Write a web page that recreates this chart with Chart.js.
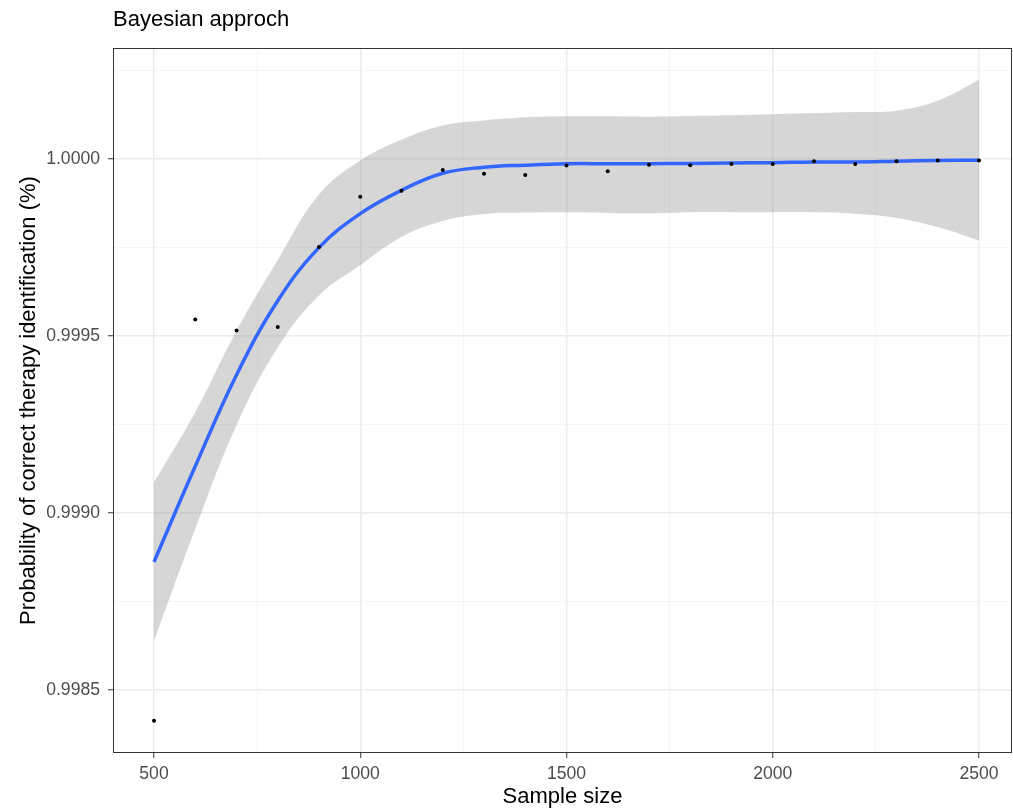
<!DOCTYPE html>
<html>
<head>
<meta charset="utf-8">
<title>Bayesian approch</title>
<script src="https://cdn.jsdelivr.net/npm/chart.js@4.4.1/dist/chart.umd.min.js"></script>
<style>
    html, body { margin: 0; padding: 0; background: #fff; overflow: hidden; }
    #wrap { width: 1013px; height: 809px; }
    canvas { display: block; }
</style>
</head>
<body>
<div id="wrap"><canvas id="chart" width="1013" height="809"></canvas></div>
<script>
// observed points
const sampleSizes = [500, 600, 700, 800, 900, 1000, 1100, 1200, 1300, 1400, 1500,
                     1600, 1700, 1800, 1900, 2000, 2100, 2200, 2300, 2400, 2500];
const probCorrect = [0.998413, 0.999547, 0.999516, 0.999526, 0.999752, 0.999894, 0.999911,
                     0.999969, 0.999959, 0.999955, 0.999982, 0.999966, 0.999984, 0.999983,
                     0.999986, 0.999986, 0.999994, 0.999986, 0.999994, 0.999996, 0.999996];

// smooth fit and its confidence band, read at the same sample sizes
const fitY = [0.998862, 0.999132, 0.999390, 0.999600, 0.999750, 0.999846, 0.999912,
              0.999960, 0.999977, 0.999983, 0.999987, 0.999987, 0.999987, 0.999988,
              0.999989, 0.999990, 0.999992, 0.999992, 0.999994, 0.999996, 0.999997];
const fitUpper = [0.999087, 0.999285, 0.999515, 0.999715, 0.999900, 0.999996, 1.000055,
                  1.000095, 1.000109, 1.000118, 1.000121, 1.000121, 1.000120, 1.000122,
                  1.000124, 1.000127, 1.000130, 1.000133, 1.000137, 1.000165, 1.000224];
const fitLower = [0.998639, 0.998955, 0.999248, 0.999468, 0.999615, 0.999700, 0.999780,
                  0.999825, 0.999845, 0.999849, 0.999850, 0.999848, 0.999847, 0.999850,
                  0.999850, 0.999850, 0.999850, 0.999846, 0.999834, 0.999808, 0.999770];

// axes
const xMajor = [500, 1000, 1500, 2000, 2500];
const xMinor = [750, 1250, 1750, 2250];
const yMajor = [0.9985, 0.9990, 0.9995, 1.0000];
const yMinor = [0.99875, 0.99925, 0.99975, 1.00025];

const FONT = "'Liberation Sans', Arial, Helvetica, sans-serif";

function toPoints(xs, ys) {
    return xs.map((x, i) => ({ x: x, y: ys[i] }));
}

function buildTicks(major, minor) {
    return major.concat(minor)
        .sort((a, b) => a - b)
        .map(v => ({ value: v, isMajor: major.includes(v) }));
}

const gridStyle = {
    color:     (c) => c.tick && c.tick.isMajor ? '#ebebeb' : '#f3f3f3',
    lineWidth: (c) => c.tick && c.tick.isMajor ? 1.5 : 0.8,
    tickColor: (c) => c.tick && c.tick.isMajor ? '#333333' : 'rgba(0,0,0,0)',
    tickWidth: 1,
    tickLength: 5,
    drawTicks: true,
};

// panel border like ggplot's theme_bw
const framePlugin = {
    id: 'frame',
    afterDraw(chart) {
        const a = chart.chartArea;
        const ctx = chart.ctx;
        ctx.save();
        ctx.strokeStyle = '#333333';
        ctx.lineWidth = 1;
        ctx.strokeRect(a.left + 0.5, a.top + 0.5, a.right - a.left - 1, a.bottom - a.top - 1);
        ctx.restore();
    },
};

const ctx = document.getElementById('chart').getContext('2d');
new Chart(ctx, {
    type: 'line',
    plugins: [framePlugin],
    data: {
        datasets: [
            {
                type: 'scatter',
                label: 'observed',
                data: toPoints(sampleSizes, probCorrect),
                pointRadius: 2,
                pointBackgroundColor: '#000',
                pointBorderWidth: 0,
                order: 0,
            },
            {
                label: 'fit',
                data: toPoints(sampleSizes, fitY),
                borderColor: '#3366FF',
                borderWidth: 3.5,
                pointRadius: 0,
                fill: false,
                tension: 0.4,
                order: 1,
            },
            {
                label: 'upper',
                data: toPoints(sampleSizes, fitUpper),
                borderWidth: 0,
                borderColor: 'rgba(0,0,0,0)',
                backgroundColor: 'rgba(153,153,153,0.4)',
                pointRadius: 0,
                fill: '+1',
                tension: 0.4,
                order: 2,
            },
            {
                label: 'lower',
                data: toPoints(sampleSizes, fitLower),
                borderWidth: 0,
                borderColor: 'rgba(0,0,0,0)',
                pointRadius: 0,
                fill: false,
                tension: 0.4,
                order: 3,
            },
        ],
    },
    options: {
        responsive: false,
        animation: false,
        layout: {
            autoPadding: false,
            padding: { left: 0, right: 1, top: 0, bottom: 0 },
        },
        plugins: {
            legend: { display: false },
            tooltip: { enabled: false },
            title: {
                display: true,
                text: 'Bayesian approch',
                align: 'start',
                fullSize: false,
                color: '#000',
                font: { family: FONT, size: 22, weight: 'normal', lineHeight: 1.2 },
                padding: { top: 7, bottom: 14.6 },
            },
        },
        scales: {
            x: {
                type: 'linear',
                min: 400.6,
                max: 2580,
                afterBuildTicks: (s) => { s.ticks = buildTicks(xMajor, xMinor); },
                afterFit: (s) => {
                    s.height = 56;
                    s.paddingLeft = 0;
                    s.paddingRight = 0;
                },
                grid: gridStyle,
                border: { display: false },
                ticks: {
                    autoSkip: false,
                    maxRotation: 0,
                    padding: 6,
                    color: '#4d4d4d',
                    font: { family: FONT, size: 17.6 },
                    callback: (v, i, ticks) => ticks[i].isMajor ? String(v) : '',
                },
                title: {
                    display: true,
                    text: 'Sample size',
                    color: '#000',
                    font: { family: FONT, size: 22, lineHeight: 1.1 },
                    padding: { top: 0, bottom: 0 },
                },
            },
            y: {
                type: 'linear',
                min: 0.998322,
                max: 1.000314,
                afterBuildTicks: (s) => { s.ticks = buildTicks(yMajor, yMinor); },
                afterFit: (s) => {
                    s.width = 113;
                    s.paddingTop = 0;
                    s.paddingBottom = 0;
                },
                grid: gridStyle,
                border: { display: false },
                ticks: {
                    autoSkip: false,
                    padding: 8,
                    color: '#4d4d4d',
                    font: { family: FONT, size: 17.6 },
                    callback: (v, i, ticks) => ticks[i].isMajor ? v.toFixed(4) : '',
                },
                title: {
                    display: true,
                    text: 'Probability of correct therapy identification (%)',
                    color: '#000',
                    font: { family: FONT, size: 22, lineHeight: 1.2 },
                    padding: { top: 16, bottom: 0 },
                },
            },
        },
    },
});
</script>
</body>
</html>
